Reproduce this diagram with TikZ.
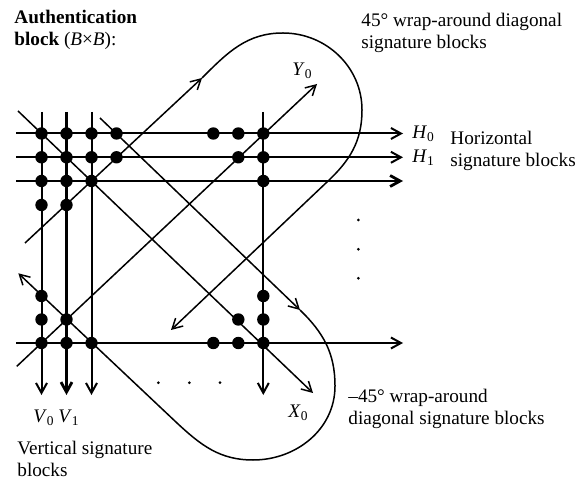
\documentclass[tikz,border=0pt]{standalone}
\usepackage{fontspec}
\setmainfont{Liberation Serif}
\usetikzlibrary{arrows.meta}

\newcommand{\sym}[2]{\textit{#1}\textsubscript{#2}}

\begin{document}
\begin{tikzpicture}[
  x=0.5pt, y=0.5pt,
  gridline/.style={line width=1pt},
  heavy/.style={line width=1.4pt},
  diag/.style={line width=0.75pt},
  arrow/.style={-{Straight Barb[length=5pt,width=5.5pt]}},
  dot/.style={circle, fill, inner sep=0pt, minimum size=6.2pt},
  speck/.style={circle, fill, inner sep=0pt, minimum size=1.5pt},
  note/.style={font=\fontsize{9.6}{11}\selectfont, align=left, inner sep=0pt}
]
  \useasboundingbox (0,0) rectangle (576,481);

  % grid lines
  \foreach \n/\x in {v0/41.5, v1/66.5, v2/91.5, vn/263.3}{
    \coordinate (\n-top) at (\x,369);
    \coordinate (\n-bot) at (\x,86);
  }
  \foreach \n/\y in {h0/347.5, h1/323.7, h2/300, hn/138}{
    \coordinate (\n-in) at (16,\y);
    \coordinate (\n-out) at (403,\y);
  }
  \draw[gridline, arrow] (v0-top) -- (v0-bot);
  \draw[heavy, arrow] (v1-top) -- (v1-bot);
  \draw[gridline, arrow] (v2-top) -- (v2-bot);
  \draw[gridline, arrow] (vn-top) -- (vn-bot);
  \draw[gridline, arrow] (h0-in) -- (h0-out);
  \draw[gridline, arrow] (h1-in) -- (h1-out);
  \draw[heavy, arrow] (h2-in) -- (h2-out);
  \draw[gridline, arrow] (hn-in) -- (hn-out);

  % main diagonals
  \coordinate (x0-in) at (18,370);
  \coordinate (x0-out) at (313,88);
  \coordinate (y0-in) at (16.7,114.6);
  \coordinate (y0-out) at (317,397);
  \draw[diag, arrow] (x0-in) -- (x0-out);
  \draw[diag, arrow] (y0-in) -- (y0-out);

  % 45 deg wrap-around
  \coordinate (p-in) at (25,238);
  \coordinate (p-turn) at (202,403);
  \coordinate (p-top) at (283,448);
  \coordinate (p-side) at (362,371);
  \coordinate (p-back) at (327,299);
  \coordinate (p-out) at (171,151);
  \draw[diag, arrow] (p-in) -- (p-turn);
  \draw[diag, arrow] (p-turn) to[out=45,in=180] (p-top) to[out=0,in=90] (p-side)
    to[out=-90,in=43] (p-back) -- (p-out);

  % -45 deg wrap-around
  \coordinate (m-in) at (100,363);
  \coordinate (m-turn) at (300,171);
  \coordinate (m-side) at (335,95);
  \coordinate (m-bot) at (253,21);
  \coordinate (m-back) at (177,58);
  \coordinate (m-out) at (18.3,207.7);
  \draw[diag, arrow] (m-in) -- (m-turn);
  \draw[diag, arrow] (m-turn) to[out=-44,in=90] (m-side) to[out=-90,in=0] (m-bot)
    to[out=180,in=-43] (m-back) -- (m-out);

  % signature bits
  \foreach \p [count=\i] in {
    {41.5,347.5},{66.5,347.5},{91.5,347.5},{116.5,347.5},
    {41.5,323.7},{66.5,323.7},{91.5,323.7},{116.5,323.7},
    {41.5,300},{66.5,300},{91.5,300},
    {41.5,276},{66.5,276},
    {213.3,347.5},{238.3,347.5},{263.3,347.5},
    {238.3,323.7},{263.3,323.7},
    {263.3,300},
    {41.5,185},
    {41.5,161.5},{66.5,161.5},
    {41.5,138},{66.5,138},{91.5,138},
    {263.3,185},
    {238.3,161.5},{263.3,161.5},
    {213.3,138},{238.3,138},{263.3,138}}
    \node[dot] (bit\i) at (\p) {};

  % ellipsis
  \foreach \p [count=\i] in {{358.3,261},{358.3,231.7},{358.3,202.7},
                             {158.3,98.3},{189.3,98.3},{220,98.3}}
    \node[speck] (gap\i) at (\p) {};

  % labels (base = last line)
  \node[note, anchor=base west] (title) at (14,435)
    {\textbf{Authentication}\\\textbf{block} (\textit{B}×\textit{B}):};
  \node[note, anchor=base west] (diag45) at (361,432)
    {45° wrap-around diagonal\\signature blocks};
  \node[note, anchor=base west] (horiz) at (450,314) {Horizontal\\signature blocks};
  \node[note, anchor=base west] (vert) at (17,5) {Vertical signature\\blocks};
  \node[note, anchor=base west] (diagm45) at (348,57)
    {--45° wrap-around\\diagonal signature blocks};

  \node[note, anchor=base west] (y0) at (292,405) {\sym{Y}{0}};
  \node[note, anchor=base west] (h0) at (412,342) {\sym{H}{0}};
  \node[note, anchor=base west] (h1) at (412,318) {\sym{H}{1}};
  \node[note, anchor=base west] (v0) at (33,59) {\sym{V}{0}};
  \node[note, anchor=base west] (v1) at (58,59) {\sym{V}{1}};
  \node[note, anchor=base west] (x0) at (288,64) {\sym{X}{0}};
\end{tikzpicture}
\end{document}
